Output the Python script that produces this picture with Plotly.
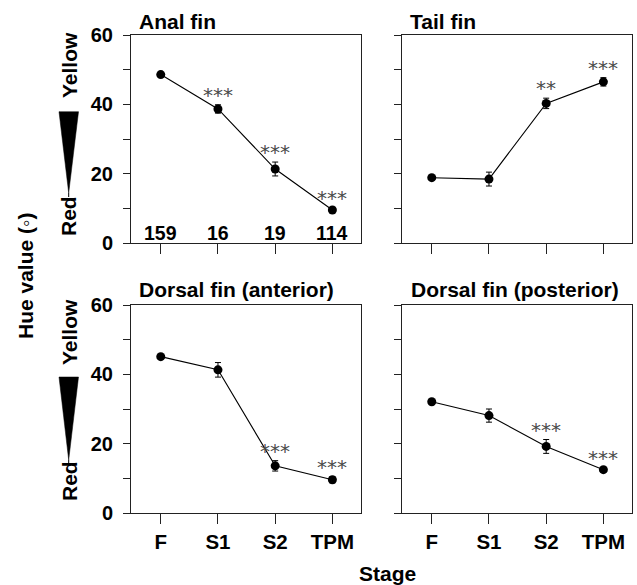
import plotly.graph_objects as go

# ---------------- data ----------------
stages = ["F", "S1", "S2", "TPM"]
panel_titles = ["Anal fin", "Tail fin", "Dorsal fin (anterior)", "Dorsal fin (posterior)"]

anal_mean = [48.6, 38.7, 21.4, 9.6]
anal_err = [0.4, 1.2, 2.0, 0.5]
tail_mean = [18.9, 18.5, 40.3, 46.5]
tail_err = [0.4, 2.0, 1.5, 1.2]
dant_mean = [45.1, 41.3, 13.6, 9.6]
dant_err = [0.4, 2.1, 1.5, 0.9]
dpost_mean = [32.1, 28.1, 19.2, 12.5]
dpost_err = [0.5, 1.9, 2.0, 0.6]

anal_sig = ["", "***", "***", "***"]
tail_sig = ["", "", "**", "***"]
dant_sig = ["", "", "***", "***"]
dpost_sig = ["", "", "***", "***"]

sample_sizes = ["159", "16", "19", "114"]
y_tick_vals = [0, 10, 20, 30, 40, 50, 60]
y_tick_text = ["0", "", "20", "", "40", "", "60"]

# ---------------- figure ----------------
W, H = 637, 585
ML, MR, MT, MB = 131, 5, 35, 72
PW, PH = W - ML - MR, H - MT - MB


def px_x(p):
    return (p - ML) / PW


def px_y(p):
    return (H - MB - p) / PH


FONT = "Liberation Sans, Arial, Helvetica, sans-serif"
LINE = "#222222"

panels = [
    (anal_mean, anal_err, anal_sig, "x", "y"),
    (tail_mean, tail_err, tail_sig, "x2", "y2"),
    (dant_mean, dant_err, dant_sig, "x3", "y3"),
    (dpost_mean, dpost_err, dpost_sig, "x4", "y4"),
]

fig = go.Figure()
annotations = []
for (m, e, sig, xa, ya) in panels:
    fig.add_trace(go.Scatter(
        x=list(range(len(stages))), y=m, mode="lines+markers",
        xaxis=xa, yaxis=ya,
        line=dict(color="black", width=1.1),
        marker=dict(color="black", size=9),
        error_y=dict(type="data", array=e, visible=True, color="black",
                     thickness=1, width=3),
        showlegend=False, cliponaxis=False,
    ))
    for i, s in enumerate(sig):
        if s:
            annotations.append(dict(
                x=i, y=m[i] + e[i], xref=xa, yref=ya, text=s, showarrow=False,
                yanchor="middle", yshift=10,
                font=dict(family="DejaVu Sans", size=20, color="#4a4a4a"),
            ))

# sample sizes in first panel
for i, n in enumerate(sample_sizes):
    annotations.append(dict(
        x=i, y=3, xref="x", yref="y", text=n, showarrow=False,
        yanchor="middle", font=dict(family=FONT, size=19.5, color="black", weight="bold"),
    ))

col_dom = [[0, px_x(361)], [px_x(402), 1]]
row_dom = [[px_y(243.3), 1], [0, px_y(305)]]

layout_axes = {}
for k in range(4):
    r, c = divmod(k, 2)
    sfx = "" if k == 0 else str(k + 1)
    layout_axes["xaxis" + sfx] = dict(
        domain=col_dom[c], anchor="y" + sfx, range=[-0.52, 3.5],
        tickmode="array", tickvals=list(range(len(stages))),
        ticktext=stages if r == 1 else [""] * len(stages),
        ticks="outside", ticklen=10, tickwidth=1, tickcolor=LINE,
        showline=True, linecolor=LINE, linewidth=1, mirror=True,
        showgrid=False, zeroline=False, fixedrange=True,
        tickfont=dict(family=FONT, size=20.5, color="black", weight="bold"),
    )
    layout_axes["yaxis" + sfx] = dict(
        domain=row_dom[r], anchor="x" + sfx, range=[0, 60],
        tickmode="array", tickvals=y_tick_vals,
        ticktext=y_tick_text if c == 0 else [""] * len(y_tick_vals),
        ticks="outside", ticklen=7, tickwidth=1, tickcolor=LINE,
        showline=True, linecolor=LINE, linewidth=1, mirror=True,
        showgrid=False, zeroline=False, fixedrange=True,
        ticklabelstandoff=6,
        tickfont=dict(family=FONT, size=20, color="black", weight="bold"),
    )

# panel titles
title_pos = [(137, 21.5), (408, 21.5), (137, 289.5), (409, 289.5)]
for t, (px, py) in zip(panel_titles, title_pos):
    annotations.append(dict(
        x=px_x(px), y=px_y(py), xref="paper", yref="paper", text=t,
        showarrow=False, xanchor="left", yanchor="middle",
        font=dict(family=FONT, size=21, color="black", weight="bold"),
    ))

# Yellow / Red labels
for txt, py in [("Yellow", 65), ("Red", 216), ("Yellow", 332), ("Red", 481)]:
    annotations.append(dict(
        x=px_x(69), y=px_y(py), xref="paper", yref="paper", text=txt,
        showarrow=False, textangle=-90, xanchor="center", yanchor="middle",
        font=dict(family=FONT, size=21, color="black", weight="bold"),
    ))

# axis titles
annotations.append(dict(
    x=px_x(25), y=px_y(276), xref="paper", yref="paper", text="Hue value (◦)",
    showarrow=False, textangle=-90, xanchor="center", yanchor="middle",
    font=dict(family=FONT, size=21, color="black", weight="bold"),
))
annotations.append(dict(
    x=px_x(387), y=px_y(573), xref="paper", yref="paper", text="Stage",
    showarrow=False, xanchor="center", yanchor="middle",
    font=dict(family=FONT, size=21, color="black", weight="bold"),
))

# wedge shapes
shapes = []
for top, tip in [(111.7, 193), (377, 460)]:
    x0, x1, xc = px_x(59), px_x(78.5), px_x(68.7)
    path = f"M {x0},{px_y(top)} L {x1},{px_y(top)} L {xc},{px_y(tip)} Z"
    shapes.append(dict(type="path", path=path, xref="paper", yref="paper",
                       fillcolor="black", line=dict(color="black", width=0.5)))
    shapes.append(dict(type="line", xref="paper", yref="paper",
                       x0=xc, x1=xc, y0=px_y(tip), y1=px_y(tip + 4),
                       line=dict(color="black", width=1)))

fig.update_layout(
    width=W, height=H,
    margin=dict(l=ML, r=MR, t=MT, b=MB),
    paper_bgcolor="white", plot_bgcolor="white",
    annotations=annotations, shapes=shapes,
    **layout_axes,
)

fig.write_html("out.html", config={"displayModeBar": False},
               post_script="document.body.style.margin='0';")
